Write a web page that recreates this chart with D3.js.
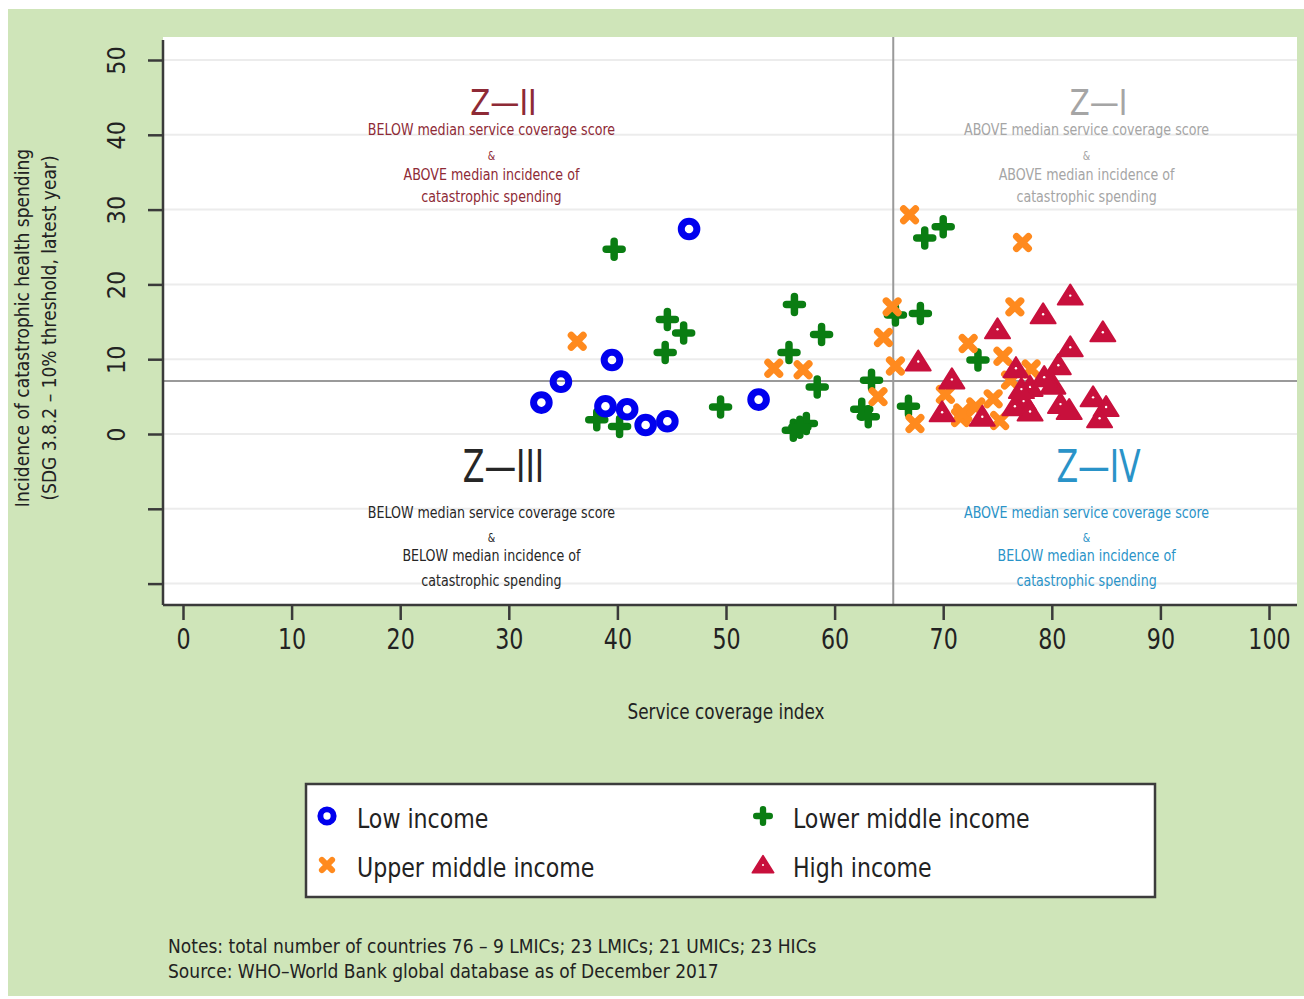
<!DOCTYPE html>
<html>
<head>
<meta charset="utf-8">
<script src="https://cdn.jsdelivr.net/npm/d3@7"></script>
<style>
  html, body { margin: 0; padding: 0; background: #fff; }
  svg { display: block; }
  text { font-family: "DejaVu Sans Condensed", "DejaVu Sans", sans-serif; }
</style>
</head>
<body>
<svg id="chart" width="1304" height="999"></svg>
<script>
// [service coverage index, incidence of catastrophic spending]
var lowIncome = [
  [46.6, 27.4], [39.5, 9.9], [34.8, 7.0], [33.0, 4.2], [38.9, 3.7],
  [40.9, 3.3], [42.6, 1.2], [44.6, 1.7], [53.0, 4.6]
];
var lowerMiddle = [
  [39.7, 24.7], [56.3, 17.3], [44.6, 15.3], [46.1, 13.5], [58.8, 13.3],
  [44.4, 10.9], [55.8, 10.9], [58.4, 6.3], [63.4, 7.2], [38.1, 1.9],
  [40.2, 1.0], [49.5, 3.6], [56.2, 0.5], [57.4, 1.4], [62.5, 3.3],
  [63.1, 2.3], [68.3, 26.2], [70.0, 27.7], [65.6, 15.9], [67.9, 16.1],
  [66.8, 3.7], [73.2, 9.9], [56.8, 0.9]
];
var upperMiddle = [
  [36.3, 12.4], [54.4, 8.8], [57.1, 8.6], [64.0, 5.0], [65.3, 17.0],
  [64.5, 12.9], [65.6, 9.1], [66.9, 29.3], [77.3, 25.6], [67.4, 1.4],
  [76.6, 17.0], [72.3, 12.1], [75.5, 10.4], [78.1, 8.7], [70.2, 5.3],
  [71.6, 2.2], [74.6, 4.7], [75.2, 1.8], [71.8, 2.8], [76.2, 7.2],
  [73.0, 3.6]
];
var highIncome = [
  [67.7, 9.7], [81.7, 18.5], [79.2, 16.0], [75.0, 14.0], [84.7, 13.6],
  [70.8, 7.3], [81.7, 11.6], [80.6, 9.2], [76.7, 8.8], [78.0, 6.3],
  [80.1, 6.6], [77.4, 4.4], [76.6, 3.7], [78.0, 3.0], [69.9, 2.9],
  [73.6, 2.3], [81.6, 3.2], [83.8, 4.9], [85.0, 3.6], [84.4, 2.1],
  [79.3, 7.6], [77.2, 6.0], [80.8, 4.0]
];
var xTicks = [0, 10, 20, 30, 40, 50, 60, 70, 80, 90, 100];
var yTicks = [-20, -10, 0, 10, 20, 30, 40, 50];
var yLabelled = [0, 10, 20, 30, 40, 50];
var medianCoverage = 65.4;
var medianIncidence = 7.1;
var legendNames = ["Low income", "Lower middle income", "Upper middle income", "High income"];
var notes = [
  "Notes: total number of countries 76 \u2013 9 LMICs; 23 LMICs; 21 UMICs; 23 HICs",
  "Source: WHO\u2013World Bank global database as of December 2017"
];

var svg = d3.select("#chart");
var plot = {left: 163, right: 1297, top: 37, bottom: 605};

var x = d3.scaleLinear().domain([0, 100]).range([183, 1269]);
var y = d3.scaleLinear().domain([0, 50]).range([434, 60]);

// narrow text: the source uses a condensed face, so squeeze horizontally
function narrowText(parent, tx, ty, sx, str){
  return parent.append("text")
    .attr("transform", "translate(" + tx + "," + ty + ") scale(" + sx + ",1)")
    .text(str);
}

svg.append("rect")
  .attr("x", 8).attr("y", 9).attr("width", 1296).attr("height", 987)
  .attr("fill", "#cfe5b9");

svg.append("rect")
  .attr("x", plot.left).attr("y", plot.top)
  .attr("width", plot.right - plot.left).attr("height", plot.bottom - plot.top)
  .attr("fill", "#fff");

// grid
svg.append("g").selectAll("line")
  .data(yTicks).enter().append("line")
  .attr("x1", plot.left).attr("x2", plot.right)
  .attr("y1", d => y(d)).attr("y2", d => y(d))
  .attr("stroke", "#ececec").attr("stroke-width", 2);

// median lines
svg.append("line")
  .attr("x1", x(medianCoverage)).attr("x2", x(medianCoverage))
  .attr("y1", plot.top).attr("y2", plot.bottom)
  .attr("stroke", "#9a9a9a").attr("stroke-width", 2);
svg.append("line")
  .attr("x1", plot.left).attr("x2", plot.right)
  .attr("y1", y(medianIncidence)).attr("y2", y(medianIncidence))
  .attr("stroke", "#9a9a9a").attr("stroke-width", 2);

// axes
var yAxis = d3.axisLeft(y)
  .tickValues(yTicks)
  .tickSize(15)
  .tickFormat(d => yLabelled.indexOf(d) >= 0 ? d : "");
var gy = svg.append("g")
  .attr("transform", "translate(" + plot.left + ",0)")
  .call(yAxis);
gy.select(".domain").attr("d", "M0,40V" + plot.bottom);
gy.selectAll(".tick text")
  .attr("transform", "rotate(-90)")
  .attr("x", 0).attr("y", -47).attr("dy", "0.35em")
  .style("text-anchor", "middle")
  .style("font-size", "25px");

var xAxis = d3.axisBottom(x)
  .tickValues(xTicks)
  .tickSize(15)
  .tickPadding(8);
var gx = svg.append("g")
  .attr("transform", "translate(0," + plot.bottom + ")")
  .call(xAxis);
gx.select(".domain").attr("d", "M" + plot.left + ",0H" + plot.right);
gx.selectAll(".tick text")
  .attr("transform", "scale(0.85,1)")
  .style("font-size", "29px");

[gx, gy].forEach(function(g){
  g.selectAll(".domain").attr("stroke", "#3a3a3a").attr("stroke-width", 2.5);
  g.selectAll(".tick line").attr("stroke", "#3a3a3a").attr("stroke-width", 2.5);
  g.selectAll("text").attr("fill", "#222")
    .style("font-family", "'DejaVu Sans Condensed', 'DejaVu Sans', sans-serif");
});

// axis titles
narrowText(svg, x(50), 719, 0.85, "Service coverage index")
  .attr("text-anchor", "middle")
  .attr("fill", "#222").style("font-size", "22px");

var yt = svg.append("g").attr("fill", "#222").attr("text-anchor", "middle")
  .style("font-size", "20px");
yt.append("text")
  .attr("transform", "translate(29,328) rotate(-90) scale(0.95,1)")
  .text("Incidence of catastrophic health spending");
yt.append("text")
  .attr("transform", "translate(56,328) rotate(-90) scale(0.95,1)")
  .text("(SDG 3.8.2 \u2013 10% threshold, latest year)");

// quadrant labels
var zones = [
  {name: "Z\u2014II", cx: 28.4, top: true, color: "#8e2a36",
   lines: ["BELOW median service coverage score", "&", "ABOVE median incidence of", "catastrophic spending"]},
  {name: "Z\u2014I", cx: 83.2, top: true, color: "#a5a5a5",
   lines: ["ABOVE median service coverage score", "&", "ABOVE median incidence of", "catastrophic spending"]},
  {name: "Z\u2014III", cx: 28.4, top: false, color: "#262626",
   lines: ["BELOW median service coverage score", "&", "BELOW median incidence of", "catastrophic spending"]},
  {name: "Z\u2014IV", cx: 83.2, top: false, color: "#2a93c8",
   lines: ["ABOVE median service coverage score", "&", "BELOW median incidence of", "catastrophic spending"]}
];
zones.forEach(function(z){
  var g = svg.append("g").attr("fill", z.color).attr("text-anchor", "middle");
  var cx = x(z.cx);
  narrowText(g, cx + 12, z.top ? 115 : 482, z.top ? 0.9 : 0.8, z.name)
    .style("font-size", z.top ? "36px" : "44px");
  var ys = z.top ? [135, 160, 180, 202] : [518, 542, 561, 586];
  z.lines.forEach(function(t, i){
    narrowText(g, cx, ys[i], 0.88, t)
      .style("font-size", i === 1 ? "12px" : "16px");
  });
});

// markers
function drawCircle(sel){
  sel.append("circle").attr("r", 7.8)
    .attr("fill", "none").attr("stroke", "#0000ee").attr("stroke-width", 7);
}
function drawPlus(sel){
  sel.append("path").attr("d", "M-8,0H8M0,-8V8")
    .attr("stroke", "#0a7d12").attr("stroke-width", 7.5).attr("stroke-linecap", "round");
}
function drawCross(sel){
  sel.append("path").attr("d", "M-6,-6L6,6M6,-6L-6,6")
    .attr("stroke", "#ff8a1e").attr("stroke-width", 7).attr("stroke-linecap", "round");
}
function drawTriangle(sel){
  sel.append("path").attr("d", "M0,-11L12.5,9H-12.5Z")
    .attr("fill", "#c8103c").attr("stroke", "#c8103c")
    .attr("stroke-width", 2).attr("stroke-linejoin", "round");
  sel.append("circle").attr("r", 1.2).attr("fill", "#fff");
}

var series = [
  {data: lowerMiddle, draw: drawPlus},
  {data: upperMiddle, draw: drawCross},
  {data: highIncome, draw: drawTriangle},
  {data: lowIncome, draw: drawCircle}
];
series.forEach(function(s){
  svg.append("g").selectAll("g")
    .data(s.data).enter().append("g")
    .attr("transform", d => "translate(" + x(d[0]) + "," + y(d[1]) + ")")
    .each(function(){ s.draw(d3.select(this)); });
});

// legend
var lg = svg.append("g");
lg.append("rect")
  .attr("x", 306).attr("y", 784).attr("width", 849).attr("height", 113)
  .attr("fill", "#fff").attr("stroke", "#3c3c3c").attr("stroke-width", 2.5);
var legendPos = [[327, 816], [763, 816], [327, 865], [763, 865]];
var legendDraw = [drawCircle, drawPlus, drawCross, drawTriangle];
legendNames.forEach(function(name, i){
  var p = legendPos[i];
  var m = lg.append("g").attr("transform", "translate(" + p[0] + "," + p[1] + ") scale(0.85)");
  legendDraw[i](m);
  narrowText(lg, p[0] + 30, p[1] + 12, 0.91, name)
    .attr("fill", "#222").style("font-size", "27px");
});

// notes
notes.forEach(function(t, i){
  narrowText(svg, 168, 953 + i * 25, 0.95, t)
    .attr("fill", "#222").style("font-size", "20px");
});
</script>
</body>
</html>
